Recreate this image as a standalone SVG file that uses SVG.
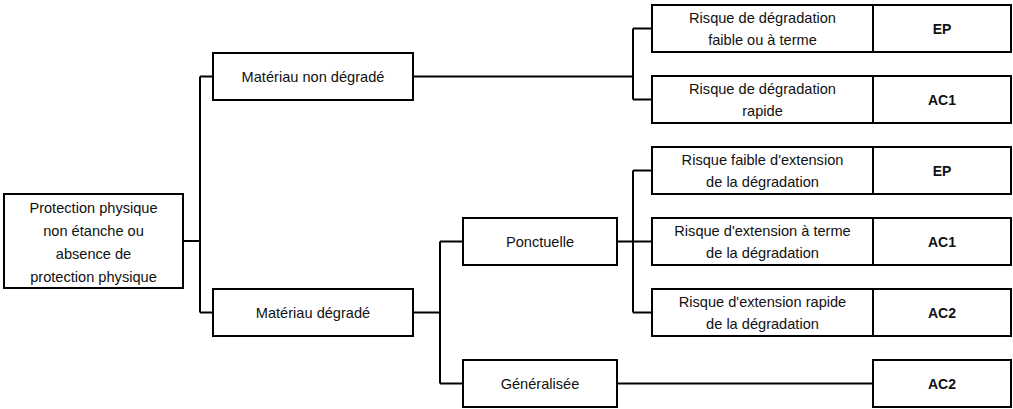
<svg xmlns="http://www.w3.org/2000/svg" width="1013" height="409" viewBox="0 0 1013 409">
<style>
.box{fill:#fff;stroke:#000;stroke-width:2}
.div{stroke:#000;stroke-width:2}
.con{fill:none;stroke:#000;stroke-width:2}
.t{font-family:"Liberation Sans",Arial,sans-serif;font-size:14.6px;fill:#111;text-anchor:middle}
.b{font-family:"Liberation Sans",Arial,sans-serif;font-size:14px;font-weight:bold;fill:#111;text-anchor:middle}
</style>
<rect width="1013" height="409" fill="#fff"/>
<g id="connectors">
<path class="con" d="M183 241H200M200 76.5V312.5M200 76.5H213M200 312.5H213"/>
<path class="con" d="M413 76.5H633M633 28.5V99.5M633 28.5H652M633 99.5H652"/>
<path class="con" d="M413 312.5H440M440 241.5V383.5M440 241.5H463M440 383.5H463"/>
<path class="con" d="M617 241.5H652M633 170.5V312.5M633 170.5H652M633 312.5H652"/>
<path class="con" d="M617 383.5H873"/>
</g>
<g id="root">
<rect class="box" x="4" y="194" width="179" height="94"/>
<text class="t" x="93.5" y="212.5">Protection physique</text>
<text class="t" x="93.5" y="235.5">non étanche ou</text>
<text class="t" x="93.5" y="258.5">absence de</text>
<text class="t" x="93.5" y="281.5">protection physique</text>
</g>
<g id="mnd">
<rect class="box" x="213" y="53" width="200" height="47"/>
<text class="t" x="313" y="81.5">Matériau non dégradé</text>
</g>
<g id="md">
<rect class="box" x="213" y="289" width="200" height="47"/>
<text class="t" x="313" y="317.5">Matériau dégradé</text>
</g>
<g id="ponctuelle">
<rect class="box" x="463" y="218" width="154" height="47"/>
<text class="t" x="540" y="246.5">Ponctuelle</text>
</g>
<g id="generalisee">
<rect class="box" x="463" y="360" width="154" height="47"/>
<text class="t" x="540" y="388.5">Généralisée</text>
</g>
<g id="r1">
<rect class="box" x="652" y="5" width="359" height="47"/>
<line class="div" x1="873" y1="5" x2="873" y2="52"/>
<text class="t" x="762.5" y="23">Risque de dégradation</text>
<text class="t" x="762.5" y="45">faible ou à terme</text>
<text class="b" x="942" y="33.5">EP</text>
</g>
<g id="r2">
<rect class="box" x="652" y="76" width="359" height="47"/>
<line class="div" x1="873" y1="76" x2="873" y2="123"/>
<text class="t" x="762.5" y="94">Risque de dégradation</text>
<text class="t" x="762.5" y="116">rapide</text>
<text class="b" x="942" y="104.5">AC1</text>
</g>
<g id="r3">
<rect class="box" x="652" y="147" width="359" height="47"/>
<line class="div" x1="873" y1="147" x2="873" y2="194"/>
<text class="t" x="762.5" y="165">Risque faible d'extension</text>
<text class="t" x="762.5" y="187">de la dégradation</text>
<text class="b" x="942" y="175.5">EP</text>
</g>
<g id="r4">
<rect class="box" x="652" y="218" width="359" height="47"/>
<line class="div" x1="873" y1="218" x2="873" y2="265"/>
<text class="t" x="762.5" y="236">Risque d'extension à terme</text>
<text class="t" x="762.5" y="258">de la dégradation</text>
<text class="b" x="942" y="246.5">AC1</text>
</g>
<g id="r5">
<rect class="box" x="652" y="289" width="359" height="47"/>
<line class="div" x1="873" y1="289" x2="873" y2="336"/>
<text class="t" x="762.5" y="307">Risque d'extension rapide</text>
<text class="t" x="762.5" y="329">de la dégradation</text>
<text class="b" x="942" y="317.5">AC2</text>
</g>
<g id="r6">
<rect class="box" x="873" y="360" width="138" height="47"/>
<text class="b" x="942" y="388.5">AC2</text>
</g>
</svg>
